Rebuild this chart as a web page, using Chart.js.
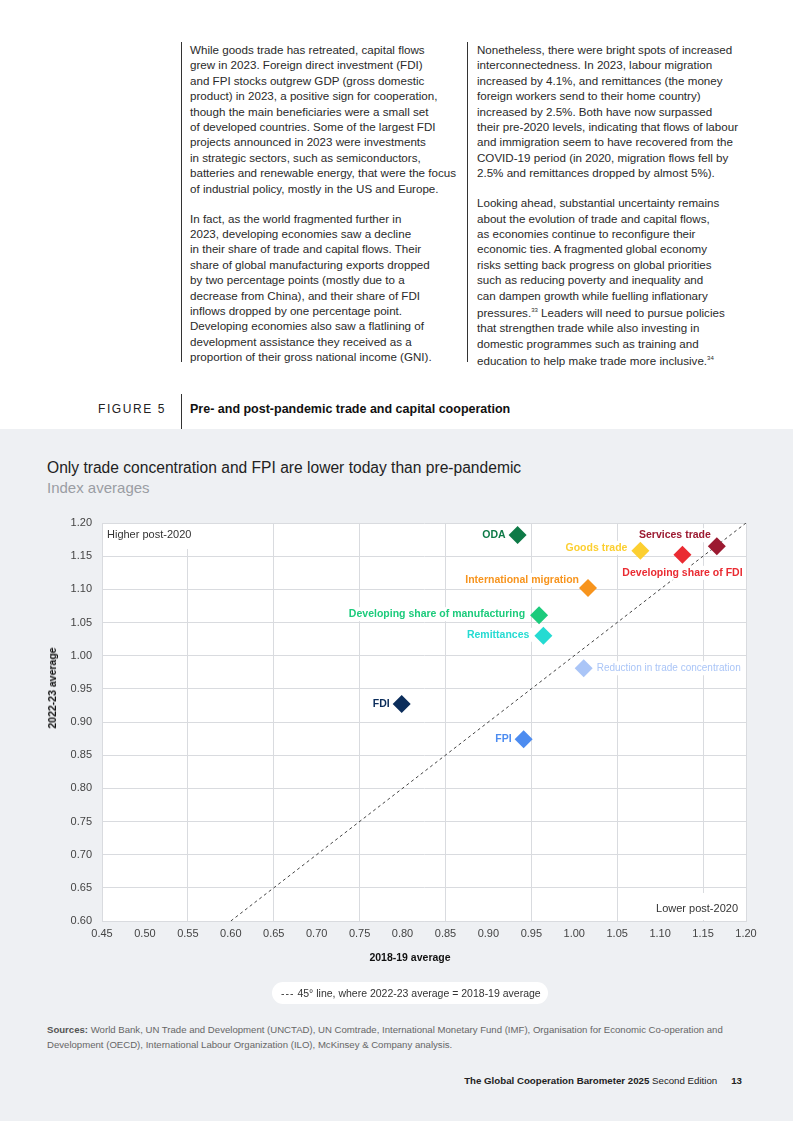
<!DOCTYPE html>
<html>
<head>
<meta charset="utf-8">
<script src="https://cdn.jsdelivr.net/npm/chart.js@4.4.1/dist/chart.umd.min.js"></script>
<style>
  body { margin: 0; width: 793px; height: 1121px; position: relative; overflow: hidden; background: #fff;
         font-family: "Liberation Sans", Arial, Helvetica, sans-serif; color: #222; }
  .abs { position: absolute; white-space: nowrap; }
  .col { position: absolute; top: 42px; font-size: 11.6px; line-height: 15.4px; color: #2a2a2a; border-left: 1px solid #333; white-space: nowrap; }
  .col p { margin: 0 0 14.5px 0; }
  .panel { position: absolute; left: 0; top: 429px; width: 793px; height: 692px; background: #eef0f3; }
  #chartBox { position: absolute; left: 0; top: 500px; }
</style>
</head>
<body>
<div class="col" style="left:181px; padding-left:8px; height:320px;">
  <p>While goods trade has retreated, capital flows<br>grew in 2023. Foreign direct investment (FDI)<br>and FPI stocks outgrew GDP (gross domestic<br>product) in 2023, a positive sign for cooperation,<br>though the main beneficiaries were a small set<br>of developed countries. Some of the largest FDI<br>projects announced in 2023 were investments<br>in strategic sectors, such as semiconductors,<br>batteries and renewable energy, that were the focus<br>of industrial policy, mostly in the US and Europe.</p>
  <p>In fact, as the world fragmented further in<br>2023, developing economies saw a decline<br>in their share of trade and capital flows. Their<br>share of global manufacturing exports dropped<br>by two percentage points (mostly due to a<br>decrease from China), and their share of FDI<br>inflows dropped by one percentage point.<br>Developing economies also saw a flatlining of<br>development assistance they received as a<br>proportion of their gross national income (GNI).</p>
</div>
<div class="col" style="left:467px; padding-left:9px; height:320px;">
  <p>Nonetheless, there were bright spots of increased<br>interconnectedness. In 2023, labour migration<br>increased by 4.1%, and remittances (the money<br>foreign workers send to their home country)<br>increased by 2.5%. Both have now surpassed<br>their pre-2020 levels, indicating that flows of labour<br>and immigration seem to have recovered from the<br>COVID-19 period (in 2020, migration flows fell by<br>2.5% and remittances dropped by almost 5%).</p>
  <p>Looking ahead, substantial uncertainty remains<br>about the evolution of trade and capital flows,<br>as economies continue to reconfigure their<br>economic ties. A fragmented global economy<br>risks setting back progress on global priorities<br>such as reducing poverty and inequality and<br>can dampen growth while fuelling inflationary<br>pressures.<sup style="font-size:6px">33</sup> Leaders will need to pursue policies<br>that strengthen trade while also investing in<br>domestic programmes such as training and<br>education to help make trade more inclusive.<sup style="font-size:6px">34</sup></p>
</div>

<div class="abs" style="left:98px; top:402px; font-size:12px; letter-spacing:1.6px; color:#222;">FIGURE 5</div>
<div class="abs" style="left:181px; top:394px; width:1px; height:35px; background:#333;"></div>
<div class="abs" style="left:190px; top:402px; font-size:12.5px; font-weight:bold; color:#111;">Pre- and post-pandemic trade and capital cooperation</div>

<div class="panel"></div>
<div class="abs" style="left:47px; top:459px; font-size:15.6px; color:#222;">Only trade concentration and FPI are lower today than pre-pandemic</div>
<div class="abs" style="left:47px; top:479px; font-size:15px; color:#9a9da3;">Index averages</div>

<canvas id="chartBox" width="793" height="470"></canvas>

<div class="abs" style="left:52px; top:688px; font-size:10.5px; font-weight:bold; color:#111; transform:translate(-50%,-50%) rotate(-90deg);">2022-23 average</div>
<div class="abs" style="left:410px; top:957px; font-size:10.5px; font-weight:bold; color:#111; transform:translate(-50%,-50%);">2018-19 average</div>

<div class="abs" style="left:272px; top:982px; width:276px; height:22px; background:#fff; border-radius:11px;"></div>
<div class="abs" style="left:281px; top:987px; font-size:10.5px; color:#333;"><span style="letter-spacing:1px;">---</span> 45° line, where 2022-23 average = 2018-19 average</div>

<div class="abs" style="left:47px; top:1022px; font-size:9.6px; line-height:15px; color:#666;"><b style="color:#555;">Sources:</b> World Bank, UN Trade and Development (UNCTAD), UN Comtrade, International Monetary Fund (IMF), Organisation for Economic Co-operation and<br>Development (OECD), International Labour Organization (ILO), McKinsey &amp; Company analysis.</div>

<div class="abs" style="right:51px; top:1075px; font-size:9.7px; color:#222;"><b>The Global Cooperation Barometer 2025</b> Second Edition<b style="margin-left:14px;">13</b></div>

<script>
const categories = ['ODA', 'Goods trade', 'Services trade', 'Developing share of FDI', 'International migration',
  'Developing share of manufacturing', 'Remittances', 'Reduction in trade concentration', 'FDI', 'FPI'];
const avg2018_19 = [0.934, 1.077, 1.166, 1.126, 1.016, 0.959, 0.964, 1.011, 0.799, 0.941];
const avg2022_23 = [1.182, 1.158, 1.165, 1.152, 1.102, 1.061, 1.030, 0.981, 0.927, 0.874];
const parityX = [0.60, 1.20];
const parityY = [0.60, 1.20];

const pointColors = ['#0e7a47', '#fccf31', '#9c1a31', '#ea2b32', '#f7941d', '#1ccb7c', '#25dbd2', '#aac5f7', '#0b2d5b', '#4d8cf0'];
// label placement: text alignment, offset from the marker centre
const labelStyle = [
  ['right', -12, 0], ['right', -13, -3], ['right', -6, -11], ['center', 0, 18], ['right', -9, -8],
  ['right', -14, -1], ['right', -14, -1], ['left', 13, 0], ['right', -12, 0], ['right', -12, 0]
];
const GRID = '#d9dbdf';
const FONT = '"Liberation Sans", Arial, Helvetica, sans-serif';

const plotDecor = {
  id: 'plotDecor',
  beforeDraw(chart) {
    const { ctx, chartArea: a } = chart;
    ctx.save();
    ctx.fillStyle = '#fff';
    ctx.fillRect(a.left, a.top, a.right - a.left, a.bottom - a.top);
    ctx.restore();
  },
  beforeDatasetsDraw(chart) {
    const { ctx, chartArea: a } = chart;
    ctx.save();
    ctx.font = '11px ' + FONT;
    ctx.textBaseline = 'middle';
    ctx.fillStyle = '#fff';
    let w = ctx.measureText('Higher post-2020').width;
    ctx.fillRect(a.left + 1, a.top + 1, w + 12, 25);
    w = ctx.measureText('Lower post-2020').width;
    ctx.fillRect(a.right - w - 16, a.bottom - 28, w + 15, 27);
    ctx.fillStyle = '#333';
    ctx.textAlign = 'left';
    ctx.fillText('Higher post-2020', a.left + 5, a.top + 12);
    ctx.textAlign = 'right';
    ctx.fillText('Lower post-2020', a.right - 8, a.bottom - 12);
    ctx.restore();
  },
  afterDatasetDraw(chart, args) {
    if (args.index !== 1) return;
    const { ctx } = chart;
    const xs = chart.scales.x, ys = chart.scales.y;
    ctx.save();
    ctx.textBaseline = 'middle';
    categories.forEach((name, i) => {
      const [align, dx, dy] = labelStyle[i];
      const px = xs.getPixelForValue(avg2018_19[i]) + dx;
      const py = ys.getPixelForValue(avg2022_23[i]) + dy;
      ctx.font = (i === 7 ? '10px ' : 'bold 10.5px ') + FONT;
      const w = ctx.measureText(name).width;
      const left = align === 'right' ? px - w : align === 'center' ? px - w / 2 : px;
      ctx.fillStyle = '#fff';
      ctx.fillRect(left - 3, py - 7, w + 6, 14);
      ctx.fillStyle = pointColors[i];
      ctx.textAlign = align;
      ctx.fillText(name, px, py);
    });
    ctx.restore();
  }
};

new Chart(document.getElementById('chartBox'), {
  type: 'scatter',
  data: {
    datasets: [
      {
        label: 'Indices',
        data: avg2018_19.map((x, i) => ({ x: x, y: avg2022_23[i] })),
        pointStyle: 'rectRot',
        radius: 9,
        hoverRadius: 9,
        backgroundColor: pointColors,
        borderWidth: 0,
        order: 1
      },
      {
        label: '45° line',
        data: parityX.map((x, i) => ({ x: x, y: parityY[i] })),
        showLine: true,
        borderColor: '#444',
        borderWidth: 1,
        borderDash: [3, 3],
        pointRadius: 0,
        order: 2
      }
    ]
  },
  options: {
    responsive: false,
    animation: false,
    layout: { padding: { left: 40, right: 47, top: 23, bottom: 0 } },
    plugins: { legend: { display: false }, tooltip: { enabled: false } },
    scales: {
      x: {
        min: 0.45, max: 1.20,
        afterFit: s => { s.height = 49; },
        ticks: { stepSize: 0.05, padding: 6, autoSkip: false, maxRotation: 0, color: '#444',
                 font: { family: FONT, size: 11 }, callback: v => v.toFixed(2) },
        grid: { drawTicks: false, color: c => (c.index % 2 === 0 || c.index === 15) ? GRID : 'rgba(0,0,0,0)' },
        border: { color: GRID }
      },
      y: {
        min: 0.60, max: 1.20,
        afterFit: s => { s.width = 62; },
        ticks: { stepSize: 0.05, padding: 10, color: '#444',
                 font: { family: FONT, size: 11 }, callback: v => v.toFixed(2) },
        grid: { drawTicks: false, color: GRID },
        border: { color: GRID }
      }
    }
  },
  plugins: [plotDecor]
});
</script>
</body>
</html>
